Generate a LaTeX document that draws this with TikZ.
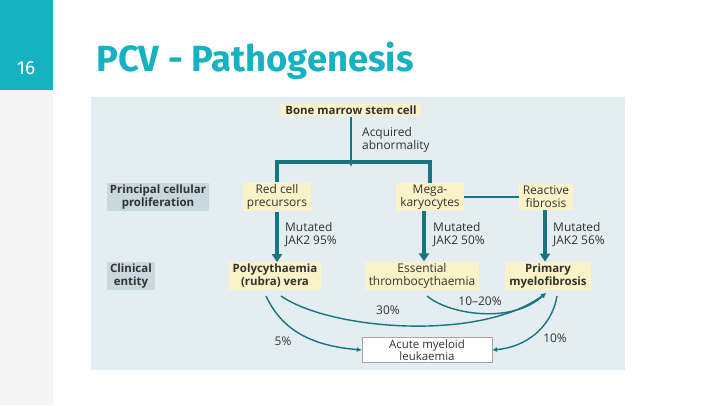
\documentclass[tikz,border=0pt]{standalone}
\usepackage{fontspec}
\setmainfont{Open Sans}
\newfontfamily\titlefont{Fira Sans}
\usetikzlibrary{arrows.meta,positioning,calc}
\definecolor{slideteal}{RGB}{22,178,194}
\definecolor{sidegray}{RGB}{245,245,245}
\definecolor{panelbg}{RGB}{228,237,241}
\definecolor{cellyellow}{RGB}{252,242,200}
\definecolor{rowgray}{RGB}{200,216,221}
\definecolor{linkteal}{RGB}{24,116,126}
\definecolor{ink}{RGB}{50,50,50}

\begin{document}
\begin{tikzpicture}[x=1bp,y=-1bp,
  cellbox/.style={rectangle,fill=cellyellow,text=ink,align=center,inner xsep=4bp,inner ysep=2bp,font=\fontsize{12}{13}\selectfont},
  rowlabel/.style={rectangle,fill=rowgray,text=ink,align=center,inner xsep=3bp,inner ysep=2bp,font=\fontsize{11.5}{13}\selectfont\bfseries},
  note/.style={text=ink,align=left,inner sep=0pt,font=\fontsize{12}{13}\selectfont},
  trunk/.style={linkteal,line width=3.2bp},
  bigarrow/.style={trunk,-{Triangle[length=8bp,width=10bp]}},
  thinarrow/.style={linkteal,line width=1.4bp,-{Latex[length=5bp,width=5bp]}}
]
\useasboundingbox (0,0) rectangle (720,405);
% slide frame
\fill[sidegray] (0,90) rectangle (53,405);
\fill[slideteal] (0,0) rectangle (53,90);
\node[text=white,font=\titlefont\fontsize{19}{19}\selectfont\addfontfeatures{Weight=Light}] (pagenum) at (26,68) {16};
\node[anchor=base west,text=slideteal,inner sep=0pt,font=\titlefont\fontsize{36.5}{36.5}\selectfont\bfseries] (title) at (96,71) {PCV - Pathogenesis};
\fill[panelbg] (91,97) rectangle (625,370);

% top of the tree
\node[cellbox,font=\fontsize{11.5}{13}\selectfont\bfseries] (stem) at (351,110) {Bone marrow stem cell};
\coordinate (bar) at (351,162);
\draw[thinarrow] (stem.south) -- ([yshift=-5bp]bar);
\node[note,anchor=west] (acquired) at (362,140) {Acquired\\abnormality};

% principal cellular proliferation
\node[rowlabel] (prolif) at (158,197) {Principal cellular\\proliferation};
\node[cellbox] (red) at (277,197) {Red cell\\precursors};
\node[cellbox] (mega) at (430,197) {Mega-\\karyocytes};
\node[cellbox] (fibro) at (546,197) {Reactive\\fibrosis};
\draw[trunk] (red.north) -- (red.north |- bar) -- (mega.north |- bar) -- (mega.north);
\draw[linkteal,line width=2.4bp] (mega) -- (fibro);

% clinical entity
\node[rowlabel] (clinical) at (131,276) {Clinical\\entity};
\node[cellbox,font=\fontsize{11.5}{13}\selectfont\bfseries] (pv) at (275,276) {Polycythaemia\\(rubra) vera};
\node[cellbox] (et) at (422,276) {Essential\\thrombocythaemia};
\node[cellbox,font=\fontsize{11.5}{13}\selectfont\bfseries] (mf) at (548,276) {Primary\\myelofibrosis};

\draw[bigarrow] (red.south -| 277,0) -- (pv.north -| 277,0);
\draw[bigarrow] (mega.south -| 424,0) -- (et.north -| 424,0);
\draw[bigarrow] (fibro.south -| 545,0) -- (mf.north -| 545,0);
\node[note,anchor=west] (jak95) at (285,235) {Mutated\\JAK2 95\%};
\node[note,anchor=west] (jak50) at (433,235) {Mutated\\JAK2 50\%};
\node[note,anchor=west] (jak56) at (553,235) {Mutated\\JAK2 56\%};

% transformation
\node[draw=gray!70,fill=white,text=ink,align=center,minimum width=130bp,minimum height=25bp,inner sep=1bp,font=\fontsize{11.5}{12.5}\selectfont] (aml) at (427,350) {Acute myeloid\\leukaemia};
\coordinate (mfin) at (546,293);
\draw[thinarrow] (281,296) .. controls (330,330) and (480,342) .. (mfin);
\draw[thinarrow] (427,296) .. controls (450,315) and (512,324) .. (mfin);
\draw[thinarrow] (266,296) to[out=-65,in=175] (aml.west);
\draw[thinarrow] (557,296) to[out=-100,in=5] (aml.east);
\node[note] (p30) at (388,310) {30\%};
\node[note] (p1020) at (480,301) {10--20\%};
\node[note] (p5) at (283,341) {5\%};
\node[note] (p10) at (555,338) {10\%};
\end{tikzpicture}
\end{document}
